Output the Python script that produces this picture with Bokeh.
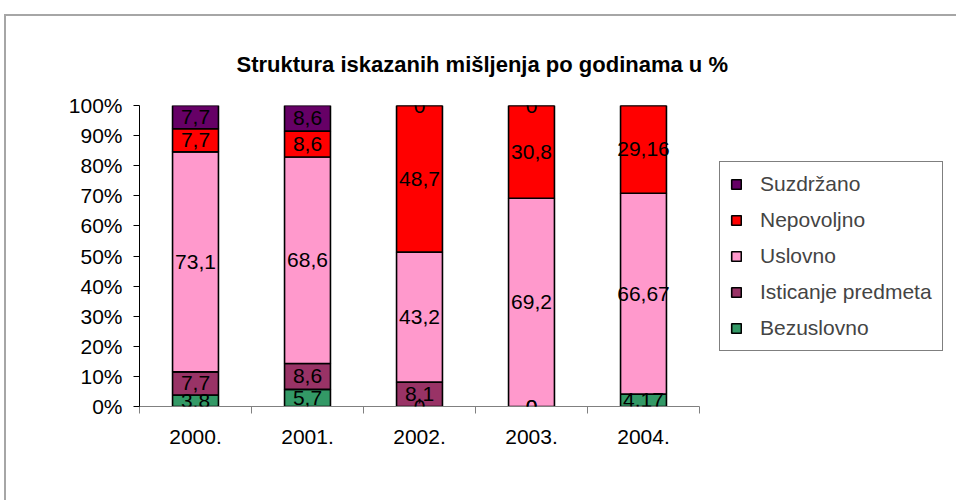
from bokeh.plotting import figure
from bokeh.models import (ColumnDataSource, Legend, LegendItem, FixedTicker,
                          Range1d, Title, LabelSet)
from bokeh.core.properties import value
from bokeh.embed import file_html
from bokeh.resources import INLINE

years = ["2000.", "2001.", "2002.", "2003.", "2004."]
series_names = ["Bezuslovno", "Isticanje predmeta", "Uslovno", "Nepovoljno", "Suzdržano"]
bezuslovno = [3.8, 5.7, 0, 0, 4.17]
isticanje = [7.7, 8.6, 8.1, 0, None]
uslovno = [73.1, 68.6, 43.2, 69.2, 66.67]
nepovoljno = [7.7, 8.6, 48.7, 30.8, 29.16]
suzdrzano = [7.7, 8.6, 0, 0, None]
colors = ["#339966", "#993366", "#FF99CC", "#FF0000", "#660066"]
y_ticks = [0, 10, 20, 30, 40, 50, 60, 70, 80, 90, 100]
y_labels = ["0%", "10%", "20%", "30%", "40%", "50%", "60%", "70%", "80%", "90%", "100%"]

FONT = "Liberation Sans"
FS = "21px"
series = [bezuslovno, isticanje, uslovno, nepovoljno, suzdrzano]

p = figure(frame_width=560, frame_height=301, output_backend="svg", toolbar_location=None,
           x_range=Range1d(0, len(years)), y_range=Range1d(0, 100),
           min_border_left=133, min_border_right=255, min_border_top=89,
           min_border_bottom=94)
p.styles = {"border-top": "2px solid #a6a6a6", "border-left": "2px solid #a6a6a6"}
p.margin = (14, 0, 0, 4)
p.outline_line_color = None
p.xgrid.visible = False
p.ygrid.visible = False
p.background_fill_color = "white"

p.title = Title(text="Struktura iskazanih mišljenja po godinama u %",
                align="left", text_font=FONT, text_font_size="22px",
                text_font_style="bold", text_color="black", offset=97,
                standoff=58)

xs = [i + 0.5 for i in range(len(years))]
bottoms = [0.0] * len(years)
renderers = []
lab_x, lab_y, lab_t = [], [], []
for name, vals, col in zip(series_names, series, colors):
    v = [x if x is not None else 0 for x in vals]
    tops = [b + a for b, a in zip(bottoms, v)]
    src = ColumnDataSource(dict(x=xs, bottom=bottoms, top=tops))
    r = p.vbar(x="x", bottom="bottom", top="top", width=0.41, source=src,
               fill_color=col, line_color="black", line_width=1.6)
    renderers.append((name, r))
    for i, val in enumerate(vals):
        if val is None:
            continue
        lab_x.append(xs[i])
        lab_y.append(bottoms[i] + val / 2)
        s = ("%g" % val).replace(".", ",")
        lab_t.append(s)
    bottoms = tops

lab_src = ColumnDataSource(dict(x=lab_x, y=lab_y, t=lab_t))
labels = LabelSet(x="x", y="y", text="t", source=lab_src, text_align="center",
                  text_baseline="middle", text_font=value(FONT),
                  text_font_size=value(FS), text_color="black", level="overlay")
p.add_layout(labels)

# axes
xa = p.xaxis[0]
xa.ticker = FixedTicker(ticks=xs, minor_ticks=list(range(len(years) + 1)))
xa.major_label_overrides = {x: y for x, y in zip(xs, years)}
xa.major_tick_out = 0
xa.major_tick_in = 0
xa.minor_tick_out = 7
xa.minor_tick_in = 0
xa.minor_tick_line_color = "#808080"
xa.axis_line_color = "#808080"
xa.major_label_text_font = FONT
xa.major_label_text_font_size = FS
xa.major_label_standoff = 16
xa.major_label_text_color = "black"

ya = p.yaxis[0]
ya.ticker = FixedTicker(ticks=y_ticks, minor_ticks=[])
ya.major_label_overrides = {t: l for t, l in zip(y_ticks, y_labels)}
ya.major_tick_out = 6
ya.major_tick_in = 0
ya.axis_line_color = "black"
ya.major_tick_line_color = "black"
ya.major_label_text_font = FONT
ya.major_label_text_font_size = FS
ya.major_label_standoff = 11
ya.major_label_text_color = "black"

items = [LegendItem(label=n, renderers=[r]) for n, r in reversed(renderers)]
legend = Legend(items=items, location="center_left", margin=20,
                glyph_width=12, glyph_height=12, label_standoff=18,
                label_text_font=FONT, label_text_font_size=FS,
                label_height=21, spacing=12, padding=10,
                border_line_color="black", border_line_width=1,
                background_fill_alpha=1)
p.add_layout(legend, "right")

open("out.html", "w").write(file_html(p, INLINE))
